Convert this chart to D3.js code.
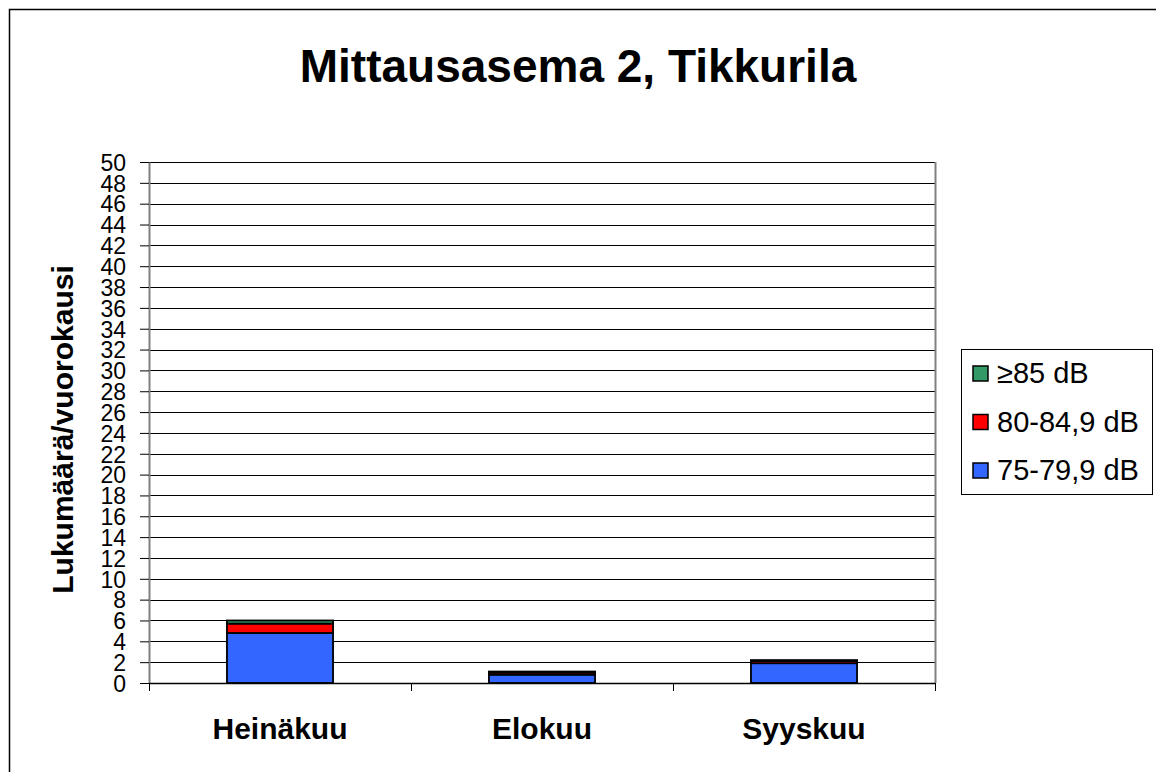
<!DOCTYPE html>
<html>
<head>
<meta charset="utf-8">
<script src="https://cdn.jsdelivr.net/npm/d3@7"></script>
<style>
  html, body { margin: 0; padding: 0; background: #fff; }
  svg { display: block; font-family: "Liberation Sans", Arial, sans-serif; }
</style>
</head>
<body>
<svg id="chart" width="1156" height="772"></svg>
<script>
// Monthly counts per day, stacked by noise level band
const months = ["Heinäkuu", "Elokuu", "Syyskuu"];
const seriesNames = ["75-79,9 dB", "80-84,9 dB", "≥85 dB"];
const band75 = [4.8, 0.8, 1.9];
const band80 = [0.9, 0.2, 0.2];
const band85 = [0.3, 0.1, 0.1];
const yTicks = d3.range(0, 51, 2);
const colors = ["#3366FF", "#FF0000", "#339966"];

const svg = d3.select("#chart");
const W = 1156, H = 772;
const FONT = "Liberation Sans, Arial, sans-serif";

// outer chart frame
svg.append("rect").attr("x", 9.5).attr("y", 9.5).attr("width", W + 10).attr("height", H + 10)
  .attr("fill", "#fff").attr("stroke", "#000").attr("stroke-width", 1.5);

const plot = { left: 149, right: 935, top: 162, bottom: 683 };

const x = d3.scaleBand().domain(months).range([plot.left, plot.right]).padding(0);
const y = d3.scaleLinear().domain([0, 50]).range([plot.bottom, plot.top]);

// gridlines
svg.append("g").selectAll("line").data(yTicks.filter(d => d > 0)).join("line")
  .attr("x1", plot.left).attr("x2", plot.right)
  .attr("y1", d => Math.round(y(d)) + 0.5).attr("y2", d => Math.round(y(d)) + 0.5)
  .attr("stroke", "#000").attr("stroke-width", 1);

// plot area border (right side)
svg.append("line").attr("x1", plot.right + 0.5).attr("x2", plot.right + 0.5)
  .attr("y1", plot.top).attr("y2", plot.bottom).attr("stroke", "#808080").attr("stroke-width", 2);

// stacked bars
const table = months.map((m, i) => ({ month: m, s0: band75[i], s1: band80[i], s2: band85[i] }));
const stacked = d3.stack().keys(["s0", "s1", "s2"])(table);
const barW = x.bandwidth() * 0.405;
svg.append("g").selectAll("g").data(stacked).join("g")
  .attr("fill", (d, i) => colors[i])
  .selectAll("rect").data(d => d).join("rect")
  .attr("x", d => x(d.data.month) + (x.bandwidth() - barW) / 2)
  .attr("width", barW)
  .attr("y", d => y(d[1]))
  .attr("height", d => y(d[0]) - y(d[1]))
  .attr("stroke", "#000").attr("stroke-width", 1.8);

// y axis
const yAxis = svg.append("g").attr("transform", `translate(${plot.left},0)`)
  .call(d3.axisLeft(y).tickValues(yTicks).tickSize(9).tickPadding(14).tickSizeOuter(0));
yAxis.select(".domain").attr("stroke", "#808080").attr("stroke-width", 2);
yAxis.selectAll(".tick line").attr("stroke", "#000");
yAxis.selectAll(".tick text").attr("font-size", 23).attr("fill", "#000")
  .attr("font-family", FONT).attr("dy", "0.36em");

// x axis
const xAxis = svg.append("g").attr("transform", `translate(0,${plot.bottom})`)
  .call(d3.axisBottom(x).tickSize(0).tickPadding(35));
xAxis.select(".domain").attr("stroke", "#000").attr("stroke-width", 1.5);
xAxis.selectAll(".tick text").attr("font-size", 30).attr("font-weight", "bold").attr("fill", "#000")
  .attr("font-family", FONT);
// category separators
svg.append("g").selectAll("line").data(months.map(m => x(m)).concat([plot.right])).join("line")
  .attr("x1", d => Math.round(d) + 0.5).attr("x2", d => Math.round(d) + 0.5)
  .attr("y1", plot.bottom).attr("y2", plot.bottom + 8).attr("stroke", "#000");

// title
svg.append("text").attr("x", 578).attr("y", 82).attr("text-anchor", "middle")
  .attr("font-size", 46).attr("font-weight", "bold").text("Mittausasema 2, Tikkurila");

// y axis title
svg.append("text").attr("transform", `translate(73,${(plot.top + plot.bottom) / 2 + 7}) rotate(-90)`)
  .attr("text-anchor", "middle").attr("font-size", 30).attr("font-weight", "bold")
  .text("Lukumäärä/vuorokausi");

// legend
const legend = svg.append("g").attr("transform", "translate(961,349)");
legend.append("rect").attr("x", 0.5).attr("y", 0.5).attr("width", 191).attr("height", 145)
  .attr("fill", "#fff").attr("stroke", "#000").attr("stroke-width", 1);
const legendOrder = [2, 1, 0];
legendOrder.forEach((si, k) => {
  const g = legend.append("g").attr("transform", `translate(0,${24 + k * 48.5})`);
  g.append("rect").attr("x", 12).attr("y", -7).attr("width", 15).attr("height", 15)
    .attr("fill", colors[si]).attr("stroke", "#000").attr("stroke-width", 1.5);
  g.append("text").attr("x", 36).attr("y", 0).attr("dy", "0.36em")
    .attr("font-size", 29).text(seriesNames[si]);
});
</script>
</body>
</html>
